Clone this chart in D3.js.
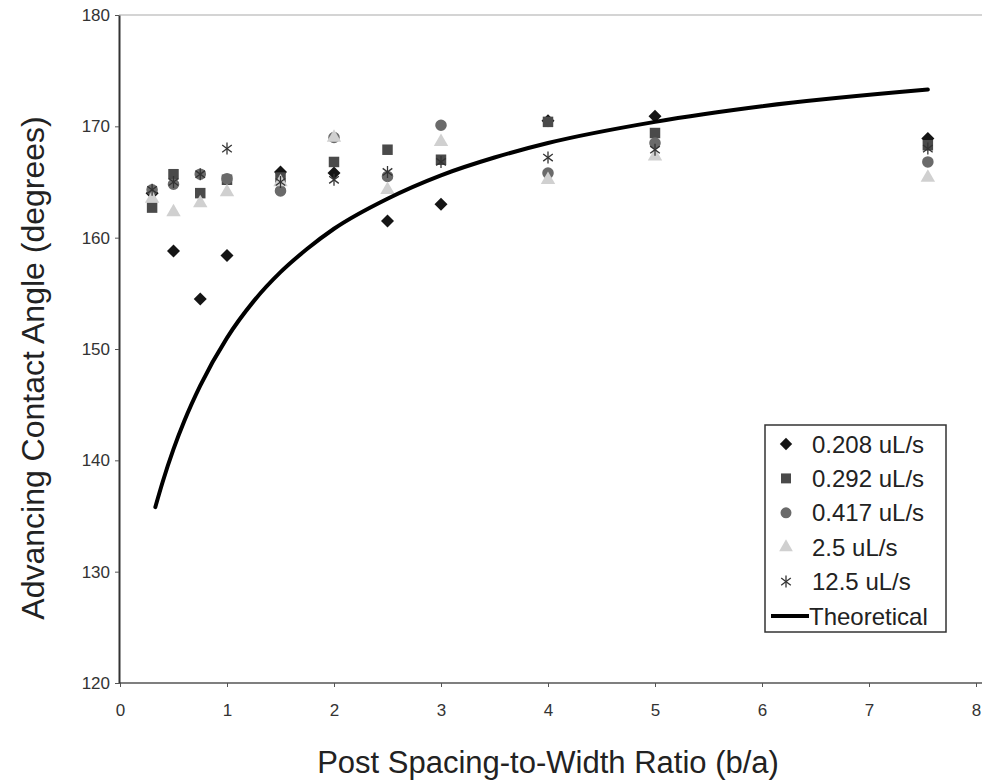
<!DOCTYPE html>
<html>
<head>
<meta charset="utf-8">
<script src="https://cdn.jsdelivr.net/npm/d3@7"></script>
<style>
  html, body { margin: 0; padding: 0; background: #fff; }
  svg text { font-family: Arial, "Liberation Sans", sans-serif; }
</style>
</head>
<body>
<svg id="chart" width="990" height="782"></svg>
<script>
// Post spacing-to-width ratio (b/a) at which each flow rate was measured
const ratios = [0.3, 0.5, 0.75, 1, 1.5, 2, 2.5, 3, 4, 5, 7.55];

// Advancing contact angle (degrees) for each flow rate
const angle0208 = [164.0, 158.8, 154.5, 158.4, 165.9, 165.8, 161.5, 163.0, 170.5, 170.9, 168.9];
const angle0292 = [162.7, 165.7, 164.0, 165.2, 165.4, 166.8, 167.9, 167.0, 170.4, 169.4, 168.3];
const angle0417 = [164.3, 164.8, 165.7, 165.3, 164.2, 169.0, 165.5, 170.1, 165.8, 168.5, 166.8];
const angle25   = [163.5, 162.3, 163.1, 164.1, 165.0, 169.0, 164.3, 168.6, 165.2, 167.3, 165.4];
const angle125  = [164.3, 165.0, 165.7, 168.0, 165.0, 165.2, 165.9, 166.8, 167.2, 167.9, 168.0];

// Theoretical curve
const theoryRatio = [0.33, 0.4, 0.5, 0.6, 0.75, 1, 1.25, 1.5, 1.75, 2, 2.5, 3, 3.5, 4, 5, 6, 7.55];
const theoryAngle = [135.8, 138.1, 141.0, 143.5, 146.7, 151.0, 154.3, 156.9, 159.0, 160.8, 163.5, 165.6, 167.2, 168.5, 170.4, 171.8, 173.3];

const seriesNames = ["0.208 uL/s", "0.292 uL/s", "0.417 uL/s", "2.5 uL/s", "12.5 uL/s", "Theoretical"];
const xTicks = [0, 1, 2, 3, 4, 5, 6, 7, 8];
const yTicks = [120, 130, 140, 150, 160, 170, 180];

const svg = d3.select("#chart");

const x = d3.scaleLinear().domain([0, 8]).range([120, 976]);
const y = d3.scaleLinear().domain([120, 180]).range([683, 15]);

// Light top edge of the plot area
svg.append("line").attr("x1", 119).attr("x2", 982).attr("y1", 15).attr("y2", 15)
  .attr("stroke", "#aaa").attr("stroke-width", 1.2);

// X axis
const xAxis = svg.append("g").attr("transform", "translate(0,683)")
  .call(d3.axisBottom(x).tickValues(xTicks).tickSize(4).tickSizeOuter(0).tickPadding(17));
xAxis.select(".domain").remove();
xAxis.append("line").attr("x1", 119).attr("x2", 982).attr("y1", 0).attr("y2", 0)
  .attr("stroke", "#555").attr("stroke-width", 1.5);
xAxis.selectAll(".tick line").attr("stroke", "#555");
xAxis.selectAll(".tick text").attr("font-size", 17).attr("fill", "#333");

// Y axis
const yAxis = svg.append("g").attr("transform", "translate(119,0)")
  .call(d3.axisLeft(y).tickValues(yTicks).tickSize(4).tickSizeOuter(0).tickPadding(5));
yAxis.select(".domain").attr("stroke", "#333").attr("stroke-width", 2);
yAxis.selectAll(".tick line").attr("stroke", "#555");
yAxis.selectAll(".tick text").attr("font-size", 17).attr("fill", "#333");

// Axis titles
svg.append("text").attr("x", 548).attr("y", 773).attr("text-anchor", "middle")
  .attr("font-size", 31).attr("fill", "#222").text("Post Spacing-to-Width Ratio (b/a)");
svg.append("text").attr("transform", "translate(44,368) rotate(-90)").attr("text-anchor", "middle")
  .attr("font-size", 32).attr("fill", "#222").text("Advancing Contact Angle (degrees)");

// Marker definitions (diamond = square turned 45 degrees)
const markers = [
  { values: angle0208, shape: d3.symbolSquare, size: 85, fill: "#151515", rot: 45 },
  { values: angle0292, shape: d3.symbolSquare, size: 110, fill: "#4a4a4a", rot: 0 },
  { values: angle0417, shape: d3.symbolCircle, size: 105, fill: "#6a6a6a", rot: 0 },
  { values: angle25,   shape: d3.symbolTriangle, size: 90, fill: "#d0d0d0", rot: 0 },
];

const plot = svg.append("g");

markers.forEach(m => {
  plot.append("g").selectAll("path").data(ratios).join("path")
    .attr("transform", (d, i) => `translate(${x(d)},${y(m.values[i])}) rotate(${m.rot})`)
    .attr("d", d3.symbol().type(m.shape).size(m.size)())
    .attr("fill", m.fill);
});

// Asterisk markers for 12.5 uL/s
function asterisk(g, s) {
  g.append("line").attr("x1", 0).attr("x2", 0).attr("y1", -s).attr("y2", s);
  g.append("line").attr("x1", -s * 0.8).attr("x2", s * 0.8).attr("y1", -s * 0.6).attr("y2", s * 0.6);
  g.append("line").attr("x1", -s * 0.8).attr("x2", s * 0.8).attr("y1", s * 0.6).attr("y2", -s * 0.6);
}
plot.append("g").attr("stroke", "#333").attr("stroke-width", 1.3)
  .selectAll("g").data(ratios).join("g")
  .attr("transform", (d, i) => `translate(${x(d)},${y(angle125[i])})`)
  .each(function () { asterisk(d3.select(this), 6); });

// Theoretical line
const line = d3.line().x(d => x(d)).y((d, i) => y(theoryAngle[i])).curve(d3.curveMonotoneX);
plot.append("path").datum(theoryRatio).attr("d", line)
  .attr("fill", "none").attr("stroke", "#000").attr("stroke-width", 4).attr("stroke-linecap", "round");

// Legend
const lg = svg.append("g").attr("transform", "translate(765,425)");
lg.append("rect").attr("x", 0).attr("y", 0).attr("width", 181).attr("height", 207)
  .attr("fill", "#fff").attr("stroke", "#333").attr("stroke-width", 1.5);

const rowY = d3.scaleLinear().domain([0, 5]).range([19, 191]);
seriesNames.forEach((name, i) => {
  const cy = rowY(i);
  if (i < 4) {
    const m = markers[i];
    lg.append("path").attr("transform", `translate(21,${cy}) rotate(${m.rot})`)
      .attr("d", d3.symbol().type(m.shape).size(m.size * 0.9)()).attr("fill", m.fill);
  } else if (i === 4) {
    const g = lg.append("g").attr("transform", `translate(21,${cy})`).attr("stroke", "#333").attr("stroke-width", 1.3);
    asterisk(g, 6);
  } else {
    lg.append("line").attr("x1", 6).attr("x2", 44).attr("y1", cy).attr("y2", cy)
      .attr("stroke", "#000").attr("stroke-width", 4);
  }
  lg.append("text").attr("x", i === 5 ? 44 : 47).attr("y", cy).attr("dy", "0.36em")
    .attr("font-size", 24).attr("fill", "#222").text(name);
});
</script>
</body>
</html>
